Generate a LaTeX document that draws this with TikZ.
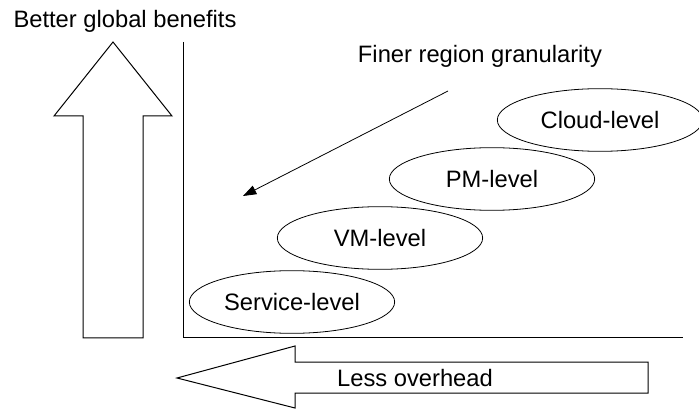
\documentclass[tikz,border=0pt]{standalone}
\usepackage{fontspec}
\setmainfont{Liberation Sans}
\usetikzlibrary{shapes.geometric,arrows.meta}
\begin{document}
\begin{tikzpicture}[x=0.75pt,y=-0.75pt,
    level/.style={draw, ellipse, line width=0.6pt, minimum width=154pt, minimum height=47pt, inner sep=0pt, font=\fontsize{17.8}{21}\selectfont},
    caption/.style={font=\fontsize{17.8}{21}\selectfont, inner sep=0pt, anchor=base},
    blockarrow/.style={draw, line width=0.75pt, line join=miter}]
  \useasboundingbox (0,0) rectangle (699,409);

  % Benefit arrow (upward)
  \draw[blockarrow] (83,338) -- (83,116) -- (54,116) -- (113,42) -- (172,116) -- (143,116) -- (143,338) -- cycle;
  \node[caption] (benefit) at (125,28) {Better global benefits};

  % Axes
  \coordinate (ytop) at (183,42);
  \coordinate (origin) at (183,338);
  \coordinate (xend) at (683,338);
  \draw[line width=0.75pt] (ytop) -- (origin) -- (xend);

  % Overhead arrow (leftward)
  \draw[blockarrow] (648,362) -- (295,362) -- (295,346) -- (177,378) -- (295,408) -- (295,393) -- (648,393) -- cycle;
  \node[caption] (overhead) at (415,386) {Less overhead};

  % Region levels
  \node[level] (service) at (292,302) {Service-level};
  \node[level] (vm) at (380,238) {VM-level};
  \node[level] (pm) at (492,179) {PM-level};
  \node[level] (cloud) at (600,120) {Cloud-level};

  % Granularity arrow
  \node[caption] (granularity) at (480,63) {Finer region granularity};
  \coordinate (gstart) at (448,91);
  \coordinate (gend) at (243,196);
  \draw[-{Triangle[length=10pt,width=7pt]}, line width=0.6pt] (gstart) -- (gend);
\end{tikzpicture}
\end{document}
